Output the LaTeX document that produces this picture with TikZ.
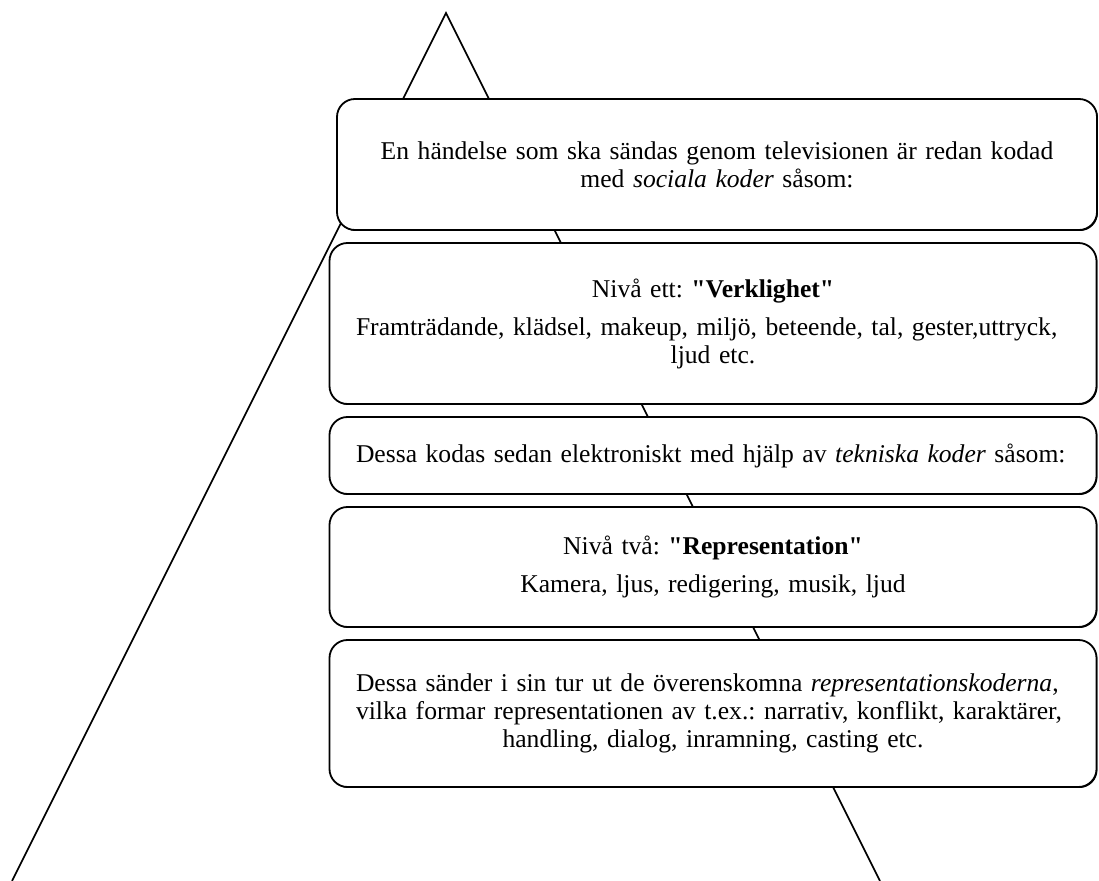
\documentclass[tikz,border=0pt]{standalone}
\usepackage{fontspec}
\setmainfont{Liberation Serif}
\usetikzlibrary{
    positioning, % for placing the boxes below one another
    shadows % for the thin dark edge under the boxes
}
\newcommand{\fullline}[1]{\makebox[357pt][s]{#1}}

\begin{document}
\begin{tikzpicture}[
        x=0.5pt,y=-0.5pt,node distance=5.6pt,
        side/.style    = {line width=0.8pt},
        codebox/.style = {draw,line width=0.9pt,fill=white,rounded corners=9pt,
                          align=center,text width=357pt,minimum width=383.5pt,
                          font=\fontsize{12.8}{14}\selectfont\frenchspacing,
                          drop shadow={shadow xshift=0.45pt,shadow yshift=-0.5pt,
                                       opacity=1,fill=black}}
    ]
    \useasboundingbox (0,0) rectangle (1099,881);

    % the triangle behind the boxes
    \coordinate (top)        at (446,13);
    \coordinate (left foot)  at (12,881);
    \coordinate (right foot) at (880,881);
    \draw [side] (left foot) -- (top) -- (right foot);

    % the boxes on top of it
    \node [codebox,text width=340pt,minimum width=380pt,minimum height=65.5pt]
        (social) at (717,164.5)
        {En händelse som ska sändas genom televisionen är redan kodad\\
         med \textit{sociala koder} såsom:};
    \node [codebox,minimum height=80.5pt] (reality) [below=of social,xshift=-2pt]
        {Nivå ett: \textbf{\textquotedbl Verklighet\textquotedbl}\\[5pt]
         \fullline{Framträdande, klädsel, makeup, miljö, beteende, tal, gester,uttryck,}\\
         ljud etc.};
    \node [codebox,minimum height=38.5pt] (technical) [below=of reality]
        {\fullline{Dessa kodas sedan elektroniskt med hjälp av \textit{tekniska koder} såsom:}};
    \node [codebox,minimum height=60pt] (representation) [below=of technical]
        {Nivå två: \textbf{\textquotedbl Representation\textquotedbl}\\[5pt]
         Kamera, ljus, redigering, musik, ljud};
    \node [codebox,minimum height=73.5pt] (ideology) [below=of representation]
        {\fullline{Dessa sänder i sin tur ut de överenskomna \textit{representationskoderna},}\\
         \fullline{vilka formar representationen av t.ex.: narrativ, konflikt, karaktärer,}\\
         handling, dialog, inramning, casting etc.};

\end{tikzpicture}
\end{document}
